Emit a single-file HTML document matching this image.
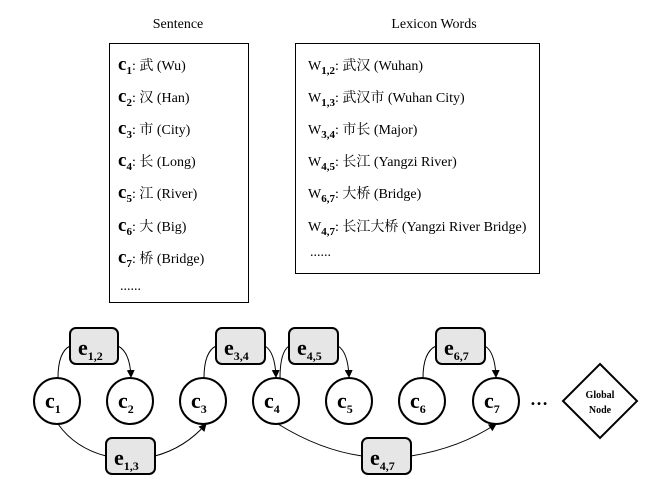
<!DOCTYPE html>
<html><head><style>body{margin:0;background:#fff}</style></head><body>
<svg width="648" height="491" xmlns="http://www.w3.org/2000/svg" font-family="Liberation Serif, 'Noto Serif CJK SC', serif">
<defs><marker id="a" markerWidth="8" markerHeight="8" refX="7" refY="4" orient="auto" markerUnits="userSpaceOnUse"><path d="M0,0 L8,4 L0,8 z" fill="#000"/></marker></defs>
<text x="178" y="28" font-size="14" text-anchor="middle">Sentence</text>
<text x="434" y="28" font-size="14" text-anchor="middle">Lexicon Words</text>
<rect x="109.5" y="43.5" width="139" height="259" fill="none" stroke="#000" stroke-width="1"/>
<rect x="295.5" y="43.5" width="244" height="230" fill="none" stroke="#000" stroke-width="1"/>
<g font-size="14">
<text x="118" y="70"><tspan font-weight="bold" font-size="19">c</tspan><tspan font-weight="bold" font-size="11" dy="4">1</tspan><tspan dy="-4">: 武 (Wu)</tspan></text>
<text x="118" y="102"><tspan font-weight="bold" font-size="19">c</tspan><tspan font-weight="bold" font-size="11" dy="4">2</tspan><tspan dy="-4">: 汉 (Han)</tspan></text>
<text x="118" y="134"><tspan font-weight="bold" font-size="19">c</tspan><tspan font-weight="bold" font-size="11" dy="4">3</tspan><tspan dy="-4">: 市 (City)</tspan></text>
<text x="118" y="166"><tspan font-weight="bold" font-size="19">c</tspan><tspan font-weight="bold" font-size="11" dy="4">4</tspan><tspan dy="-4">: 长 (Long)</tspan></text>
<text x="118" y="198"><tspan font-weight="bold" font-size="19">c</tspan><tspan font-weight="bold" font-size="11" dy="4">5</tspan><tspan dy="-4">: 江 (River)</tspan></text>
<text x="118" y="231"><tspan font-weight="bold" font-size="19">c</tspan><tspan font-weight="bold" font-size="11" dy="4">6</tspan><tspan dy="-4">: 大 (Big)</tspan></text>
<text x="118" y="263"><tspan font-weight="bold" font-size="19">c</tspan><tspan font-weight="bold" font-size="11" dy="4">7</tspan><tspan dy="-4">: 桥 (Bridge)</tspan></text>
<text x="120" y="290">......</text>
<text x="308" y="70">W<tspan font-weight="bold" font-size="11" dy="4">1,2</tspan><tspan dy="-4">: 武汉 (Wuhan)</tspan></text>
<text x="308" y="102">W<tspan font-weight="bold" font-size="11" dy="4">1,3</tspan><tspan dy="-4">: 武汉市 (Wuhan City)</tspan></text>
<text x="308" y="134">W<tspan font-weight="bold" font-size="11" dy="4">3,4</tspan><tspan dy="-4">: 市长 (Major)</tspan></text>
<text x="308" y="166">W<tspan font-weight="bold" font-size="11" dy="4">4,5</tspan><tspan dy="-4">: 长江 (Yangzi River)</tspan></text>
<text x="308" y="198">W<tspan font-weight="bold" font-size="11" dy="4">6,7</tspan><tspan dy="-4">: 大桥 (Bridge)</tspan></text>
<text x="308" y="231">W<tspan font-weight="bold" font-size="11" dy="4">4,7</tspan><tspan dy="-4">: 长江大桥 (Yangzi River Bridge)</tspan></text>
<text x="310" y="256">......</text>
</g>
<g fill="none" stroke="#000" stroke-width="1">
<path d="M58,378 Q58,352 70,346"/><path d="M118,346 Q130,352 131,377" marker-end="url(#a)"/>
<path d="M204,378 Q204,352 216,346"/><path d="M265,346 Q275,352 276,377" marker-end="url(#a)"/>
<path d="M280,378 Q280,352 289,346"/><path d="M338,346 Q348,352 349,377" marker-end="url(#a)"/>
<path d="M423,378 Q423,352 436,346"/><path d="M485,346 Q495,352 496,377" marker-end="url(#a)"/>
<path d="M58,424 Q75,448 106,456"/><path d="M155,456 Q185,448 206,424" marker-end="url(#a)"/>
<path d="M278,424 Q320,450 362,456"/><path d="M411,456 Q460,448 496,424" marker-end="url(#a)"/>
</g>
<g fill="#e6e6e6" stroke="#000" stroke-width="2">
<rect x="70" y="328" width="48" height="36" rx="6"/>
<rect x="216" y="328" width="49" height="36" rx="6"/>
<rect x="289" y="328" width="49" height="36" rx="6"/>
<rect x="436" y="328" width="49" height="36" rx="6"/>
<rect x="106" y="438" width="49" height="36" rx="6"/>
<rect x="362" y="438" width="49" height="36" rx="6"/>
</g>
<g fill="#fff" stroke="#000" stroke-width="2">
<circle cx="57" cy="401" r="23"/><circle cx="130" cy="401" r="23"/><circle cx="203" cy="401" r="23"/>
<circle cx="276" cy="401" r="23"/><circle cx="349" cy="401" r="23"/><circle cx="422" cy="401" r="23"/>
<circle cx="496" cy="401" r="23"/>
<path d="M600,364 L637,401 L600,438 L563,401 z"/>
</g>
<g font-weight="bold" font-size="22">
<text x="78" y="355">e<tspan font-size="12" dy="5">1,2</tspan></text>
<text x="224" y="355">e<tspan font-size="12" dy="5">3,4</tspan></text>
<text x="297" y="355">e<tspan font-size="12" dy="5">4,5</tspan></text>
<text x="444" y="355">e<tspan font-size="12" dy="5">6,7</tspan></text>
<text x="114" y="465">e<tspan font-size="12" dy="5">1,3</tspan></text>
<text x="370" y="465">e<tspan font-size="12" dy="5">4,7</tspan></text>
<text x="45" y="408">c<tspan font-size="12" dy="5">1</tspan></text>
<text x="118" y="408">c<tspan font-size="12" dy="5">2</tspan></text>
<text x="191" y="408">c<tspan font-size="12" dy="5">3</tspan></text>
<text x="264" y="408">c<tspan font-size="12" dy="5">4</tspan></text>
<text x="337" y="408">c<tspan font-size="12" dy="5">5</tspan></text>
<text x="410" y="408">c<tspan font-size="12" dy="5">6</tspan></text>
<text x="484" y="408">c<tspan font-size="12" dy="5">7</tspan></text>
<text x="530" y="405" font-size="18">…</text>
<text x="600" y="398" font-size="10" text-anchor="middle">Global</text>
<text x="600" y="413" font-size="10" text-anchor="middle">Node</text>
</g>
</svg>
</body></html>
